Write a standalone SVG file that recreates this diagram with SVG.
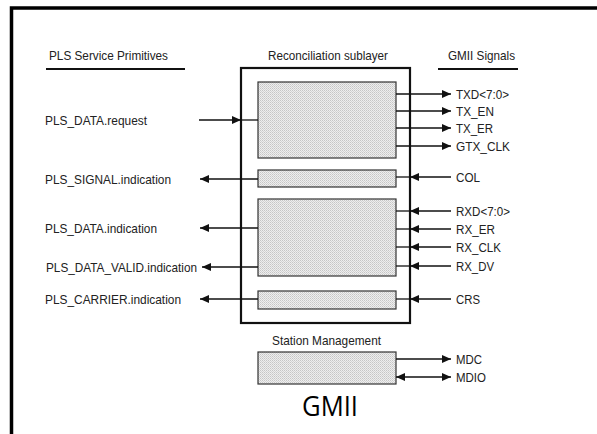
<svg xmlns="http://www.w3.org/2000/svg" width="597" height="434" viewBox="0 0 597 434">
  <style>
    .lbl { font-family: "Liberation Sans", Arial, sans-serif; font-size: 13.6px; fill: #222; }
    .hdr { font-family: "Liberation Sans", Arial, sans-serif; font-size: 13.6px; fill: #222; }
    .block { fill: url(#dots); stroke: #333; stroke-width: 1.2; }
    .wire { stroke: #111; stroke-width: 1.3; fill: none; }
    .rule { stroke: #111; stroke-width: 2.2; }
  </style>
  <defs>
    <pattern id="dots" width="2" height="2" patternUnits="userSpaceOnUse">
      <rect width="2" height="2" fill="#eeeeee"/>
      <rect width="1" height="1" fill="#c6c6c6"/>
      <rect x="1" y="1" width="1" height="1" fill="#d4d4d4"/>
    </pattern>
    <marker id="arrow" viewBox="0 0 9 8" refX="9" refY="4" markerWidth="9" markerHeight="8" markerUnits="userSpaceOnUse" orient="auto-start-reverse">
      <path d="M0,0 L9,4 L0,8 z" fill="#111"/>
    </marker>
  </defs>

  <rect width="597" height="434" fill="#fff"/>
  <!-- outer frame, open to the right and bottom -->
  <rect x="11.5" y="8" width="620" height="460" fill="none" stroke="#000" stroke-width="3.5"/>

  <!-- column headers -->
  <g id="hdr-pls">
    <text class="hdr" x="49" y="60" textLength="119" lengthAdjust="spacingAndGlyphs">PLS Service Primitives</text>
    <line class="rule" x1="46" y1="69" x2="185" y2="69"/>
  </g>
  <g id="hdr-gmii">
    <text class="hdr" x="448" y="60" textLength="67" lengthAdjust="spacingAndGlyphs">GMII Signals</text>
    <line class="rule" x1="438" y1="69" x2="518" y2="69"/>
  </g>

  <!-- reconciliation sublayer -->
  <g id="rs">
    <text class="hdr" x="268" y="60" textLength="120" lengthAdjust="spacingAndGlyphs">Reconciliation sublayer</text>
    <rect x="241" y="68" width="169" height="255" fill="none" stroke="#111" stroke-width="2.2"/>
  </g>
  <g id="rs-tx"><rect class="block" x="258" y="82" width="138" height="76"/></g>
  <g id="rs-col"><rect class="block" x="258" y="170" width="138" height="17"/></g>
  <g id="rs-rx"><rect class="block" x="258" y="199" width="138" height="77"/></g>
  <g id="rs-crs"><rect class="block" x="258" y="291" width="138" height="18"/></g>

  <!-- station management -->
  <g id="sm">
    <text class="hdr" x="272" y="345" textLength="109" lengthAdjust="spacingAndGlyphs">Station Management</text>
    <rect class="block" x="258" y="352" width="138" height="32"/>
  </g>

  <!-- service primitive labels -->
  <g id="pls-labels">
    <text class="lbl" x="45" y="125" textLength="102" lengthAdjust="spacingAndGlyphs">PLS_DATA.request</text>
    <text class="lbl" x="45" y="184" textLength="126" lengthAdjust="spacingAndGlyphs">PLS_SIGNAL.indication</text>
    <text class="lbl" x="45" y="233" textLength="112" lengthAdjust="spacingAndGlyphs">PLS_DATA.indication</text>
    <text class="lbl" x="46" y="272" textLength="151" lengthAdjust="spacingAndGlyphs">PLS_DATA_VALID.indication</text>
    <text class="lbl" x="45" y="304" textLength="136" lengthAdjust="spacingAndGlyphs">PLS_CARRIER.indication</text>
  </g>

  <!-- GMII signal labels -->
  <g id="gmii-labels">
    <text class="lbl" x="456" y="99" textLength="53" lengthAdjust="spacingAndGlyphs">TXD&lt;7:0&gt;</text>
    <text class="lbl" x="456" y="116" textLength="38" lengthAdjust="spacingAndGlyphs">TX_EN</text>
    <text class="lbl" x="456" y="133" textLength="37" lengthAdjust="spacingAndGlyphs">TX_ER</text>
    <text class="lbl" x="456" y="151" textLength="54" lengthAdjust="spacingAndGlyphs">GTX_CLK</text>
    <text class="lbl" x="456" y="182" textLength="24" lengthAdjust="spacingAndGlyphs">COL</text>
    <text class="lbl" x="456" y="216" textLength="54" lengthAdjust="spacingAndGlyphs">RXD&lt;7:0&gt;</text>
    <text class="lbl" x="456" y="234" textLength="39" lengthAdjust="spacingAndGlyphs">RX_ER</text>
    <text class="lbl" x="456" y="252" textLength="45" lengthAdjust="spacingAndGlyphs">RX_CLK</text>
    <text class="lbl" x="456" y="271" textLength="38" lengthAdjust="spacingAndGlyphs">RX_DV</text>
    <text class="lbl" x="456" y="304" textLength="24" lengthAdjust="spacingAndGlyphs">CRS</text>
    <text class="lbl" x="456" y="364" textLength="26" lengthAdjust="spacingAndGlyphs">MDC</text>
    <text class="lbl" x="456" y="382" textLength="30" lengthAdjust="spacingAndGlyphs">MDIO</text>
  </g>

  <!-- connectors -->
  <g id="connectors">
    <!-- PLS side -->
    <path class="wire" d="M199,120 H241" marker-end="url(#arrow)"/>
    <path class="wire" d="M241,120 H258"/>
    <path class="wire" d="M258,179 H200" marker-end="url(#arrow)"/>
    <path class="wire" d="M258,228 H200" marker-end="url(#arrow)"/>
    <path class="wire" d="M258,267 H202" marker-end="url(#arrow)"/>
    <path class="wire" d="M258,299 H200" marker-end="url(#arrow)"/>

    <!-- transmit outputs -->
    <path class="wire" d="M396,94 H451" marker-end="url(#arrow)"/>
    <path class="wire" d="M396,111 H451" marker-end="url(#arrow)"/>
    <path class="wire" d="M396,128 H451" marker-end="url(#arrow)"/>
    <path class="wire" d="M396,146 H451" marker-end="url(#arrow)"/>

    <!-- receive inputs -->
    <path class="wire" d="M451,177 H410" marker-end="url(#arrow)"/>
    <path class="wire" d="M410,177 H396"/>
    <path class="wire" d="M451,211 H410" marker-end="url(#arrow)"/>
    <path class="wire" d="M410,211 H396"/>
    <path class="wire" d="M451,229 H410" marker-end="url(#arrow)"/>
    <path class="wire" d="M410,229 H396"/>
    <path class="wire" d="M451,247 H410" marker-end="url(#arrow)"/>
    <path class="wire" d="M410,247 H396"/>
    <path class="wire" d="M451,266 H410" marker-end="url(#arrow)"/>
    <path class="wire" d="M410,266 H396"/>
    <path class="wire" d="M451,299 H410" marker-end="url(#arrow)"/>
    <path class="wire" d="M410,299 H396"/>

    <!-- management interface -->
    <path class="wire" d="M396,359 H451" marker-end="url(#arrow)"/>
    <path class="wire" d="M396,377 H451" marker-start="url(#arrow)" marker-end="url(#arrow)"/>
  </g>

  <text x="302" y="416" textLength="56" lengthAdjust="spacingAndGlyphs" font-family="'Open Sans', 'Noto Sans', sans-serif" font-size="26.5" fill="#000">GMII</text>
</svg>
